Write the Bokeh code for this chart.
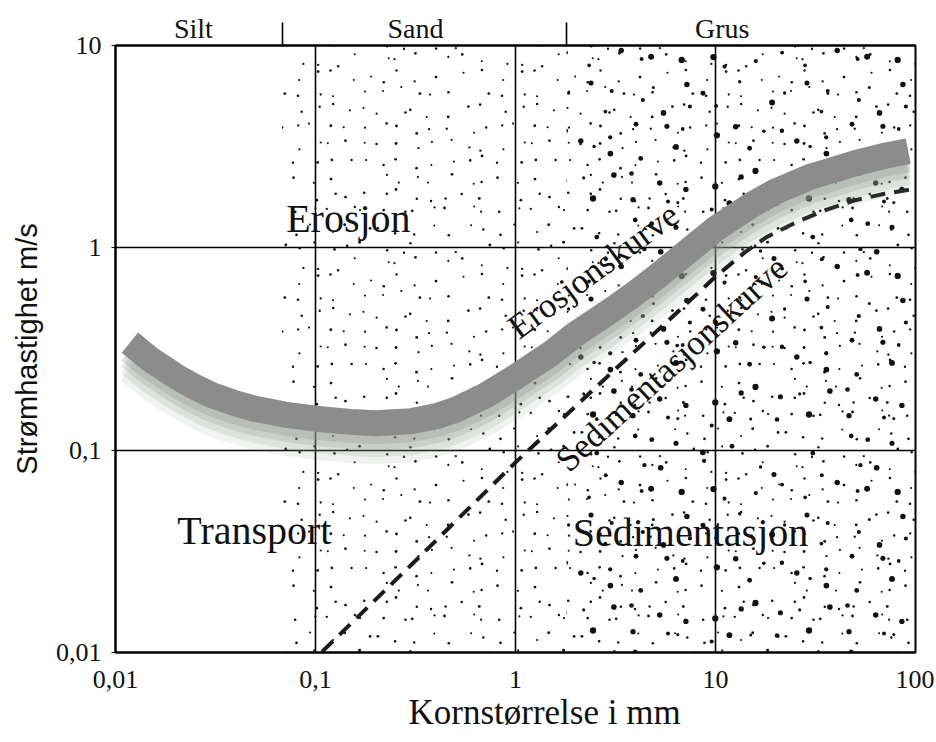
import base64
import hashlib
from bokeh.plotting import figure
from bokeh.models import LogAxis, FixedTicker, Title, Range1d, ImageURLTexture
from bokeh.core.properties import value
from bokeh.embed import file_html
from bokeh.resources import INLINE

# ---- axes -------------------------------------------------------------
x_ticks = [0.01, 0.1, 1, 10, 100]
x_tick_labels = ["0,01", "0,1", "1", "10", "100"]
y_ticks = [0.01, 0.1, 1, 10]
y_tick_labels = ["0,01", "0,1", "1", "10"]

# ---- grain-size classes (top strip) -----------------------------------
class_names = ["Silt", "Sand", "Grus"]
class_centers = [0.0245, 0.316, 10.8]
class_bounds = [0.068, 1.8]

# ---- erosion curve (grain size mm, velocity m/s) ----------------------
erosion_size = [0.0118, 0.015, 0.02, 0.025, 0.03, 0.04, 0.05, 0.07, 0.1, 0.15, 0.2, 0.3,
                0.4, 0.5, 0.7, 1.0, 1.5, 2.0, 3.0, 4.0, 5.0, 7.0, 10.0, 15.0, 20.0, 30.0,
                50.0, 70.0, 92.0]
erosion_speed = [0.34, 0.28, 0.232, 0.205, 0.188, 0.170, 0.160, 0.150, 0.143, 0.138, 0.136, 0.139,
                 0.147, 0.158, 0.185, 0.23, 0.30, 0.375, 0.49, 0.60, 0.71, 0.93, 1.24, 1.62, 1.90, 2.25,
                 2.62, 2.85, 3.00]

# ---- sedimentation curve ----------------------------------------------
sed_size = [0.108, 0.3, 1.0, 3.0, 6.0, 10.0, 14.0, 18.0, 25.0, 35.0, 50.0, 70.0, 97.0]
sed_speed = [0.0101, 0.027, 0.087, 0.24, 0.45, 0.72, 0.95, 1.13, 1.33, 1.53, 1.72, 1.85, 1.95]

# ---- region labels ----------------------------------------------------
region_names = ["Erosjon", "Transport", "Sedimentasjon"]
region_x = [0.146, 0.0495, 7.5]
region_y = [1.39, 0.040, 0.039]

curve_names = ["Erosjonskurve", "Sedimentasjonskurve"]
curve_x = [2.45, 6.03]
curve_y = [0.77, 0.267]
curve_angle_deg = [36.5, 42.5]

SERIF = "Liberation Serif"


def _hash(i, j, k):
    h = hashlib.md5(f"{i}:{j}:{k}".encode()).hexdigest()
    return int(h[:8], 16) / 0xFFFFFFFF


def stipple_tile(cell, ncell, keep, r_min, r_max, salt):
    """Decorative stipple texture tile (jittered dot grid) as an SVG data URL."""
    size = cell * ncell
    parts = []
    for i in range(ncell):
        for j in range(ncell):
            if _hash(i, j, salt) > keep:
                continue
            cx = (i + 0.1 + 0.8 * _hash(i, j, salt + 1)) * cell
            cy = (j + 0.1 + 0.8 * _hash(i, j, salt + 2)) * cell
            r = r_min + (r_max - r_min) * _hash(i, j, salt + 3)
            parts.append(f'<circle cx="{cx:.1f}" cy="{cy:.1f}" r="{r:.2f}" fill="#111"/>')
    svg = (f'<svg xmlns="http://www.w3.org/2000/svg" width="{size}" height="{size}" '
           f'viewBox="0 0 {size} {size}">' + "".join(parts) + "</svg>")
    return "data:image/svg+xml;base64," + base64.b64encode(svg.encode()).decode()


fine_tex = ImageURLTexture(url=stipple_tile(17, 12, 0.92, 1.0, 1.45, 11))
coarse_tex = ImageURLTexture(url=stipple_tile(24, 9, 0.85, 1.5, 3.2, 57))

p = figure(x_axis_type="log", y_axis_type="log",
           x_range=Range1d(x_ticks[0], x_ticks[-1]),
           y_range=Range1d(y_ticks[0], y_ticks[-1]),
           width=934, height=740,
           min_border_left=115, min_border_right=19,
           min_border_top=45, min_border_bottom=88,
           toolbar_location=None, output_backend="svg",
           background_fill_color="white", border_fill_color="white")
p.outline_line_color = "black"
p.outline_line_width = 2

p.quad(left=[class_bounds[0]], right=[x_ticks[-1]], bottom=[y_ticks[0]], top=[y_ticks[-1]],
       fill_alpha=0, line_alpha=0, hatch_pattern=value("fine"),
       hatch_extra={"fine": fine_tex}, hatch_color="black", hatch_alpha=1.0)
p.quad(left=[class_bounds[1]], right=[x_ticks[-1]], bottom=[y_ticks[0]], top=[y_ticks[-1]],
       fill_alpha=0, line_alpha=0, hatch_pattern=value("coarse"),
       hatch_extra={"coarse": coarse_tex}, hatch_color="black", hatch_alpha=1.0)

# grid
p.xgrid.ticker = FixedTicker(ticks=x_ticks)
p.ygrid.ticker = FixedTicker(ticks=y_ticks)
p.grid.grid_line_color = "black"
p.grid.grid_line_width = 1.6

# sedimentation curve
p.line(sed_size, sed_speed, line_color="#1a1a1a", line_width=4, line_dash="15 9")

# erosion band with soft shadow below
for off, w, a in [(26, 30, 0.13), (20, 28, 0.18), (14, 26, 0.25), (8, 26, 0.32)]:
    f = 10 ** (-off / 202.0)
    p.line(erosion_size, [v * f for v in erosion_speed], line_color="#8e998e",
           line_width=w, line_alpha=a, line_cap="butt", line_join="round")
p.line(erosion_size, erosion_speed, line_color="#8c8c8c", line_width=26,
       line_cap="butt", line_join="round")

# labels
p.text(region_x, region_y, text=region_names, text_font=value(SERIF),
       text_font_size="40px", text_align="center", text_baseline="middle", text_color="#111")
p.text(curve_x, curve_y, text=curve_names, angle=curve_angle_deg, angle_units="deg",
       text_font=value(SERIF), text_font_size="35px", text_align="center",
       text_baseline="middle", text_color="#111")

# axes
xa = p.xaxis[0]
xa.ticker = FixedTicker(ticks=x_ticks)
xa.major_label_overrides = dict(zip(x_ticks, x_tick_labels))
xa.major_tick_out = 0
xa.major_tick_in = 0
xa.minor_tick_out = 0
xa.minor_tick_in = 0
xa.axis_line_color = "black"
xa.axis_line_width = 2
xa.major_label_standoff = 18
xa.major_label_text_font = SERIF
xa.major_label_text_font_size = "26px"
xa.major_label_text_color = "#111"

ya = p.yaxis[0]
ya.ticker = FixedTicker(ticks=y_ticks)
ya.major_label_overrides = dict(zip(y_ticks, y_tick_labels))
ya.major_tick_out = 4
ya.major_tick_in = 0
ya.minor_tick_out = 0
ya.minor_tick_in = 0
ya.axis_line_color = "black"
ya.axis_line_width = 2
ya.major_label_standoff = 10
ya.major_label_text_font = SERIF
ya.major_label_text_font_size = "26px"
ya.major_label_text_color = "#111"
ya.axis_label = "Strømhastighet m/s"
ya.axis_label_text_font = "Liberation Sans"
ya.axis_label_text_font_size = "29px"
ya.axis_label_text_font_style = "normal"
ya.axis_label_text_color = "#111"
ya.axis_label_standoff = 10

top = LogAxis(ticker=FixedTicker(ticks=class_centers, minor_ticks=class_bounds),
              major_label_overrides=dict(zip(class_centers, class_names)),
              major_tick_out=0, major_tick_in=0,
              minor_tick_out=23, minor_tick_in=0,
              minor_tick_line_color="black", minor_tick_line_width=1.6,
              axis_line_color="black", axis_line_width=2,
              major_label_standoff=-21,
              major_label_text_font=SERIF, major_label_text_font_size="28px",
              major_label_text_color="#111")
p.add_layout(top, "above")

xt = Title(text="Kornstørrelse i mm", align="left", offset=293,
           text_font=SERIF, text_font_size="35px", text_font_style="normal",
           text_color="#111", standoff=0)
p.add_layout(xt, "below")

open("out.html", "w").write(file_html(p, INLINE))
